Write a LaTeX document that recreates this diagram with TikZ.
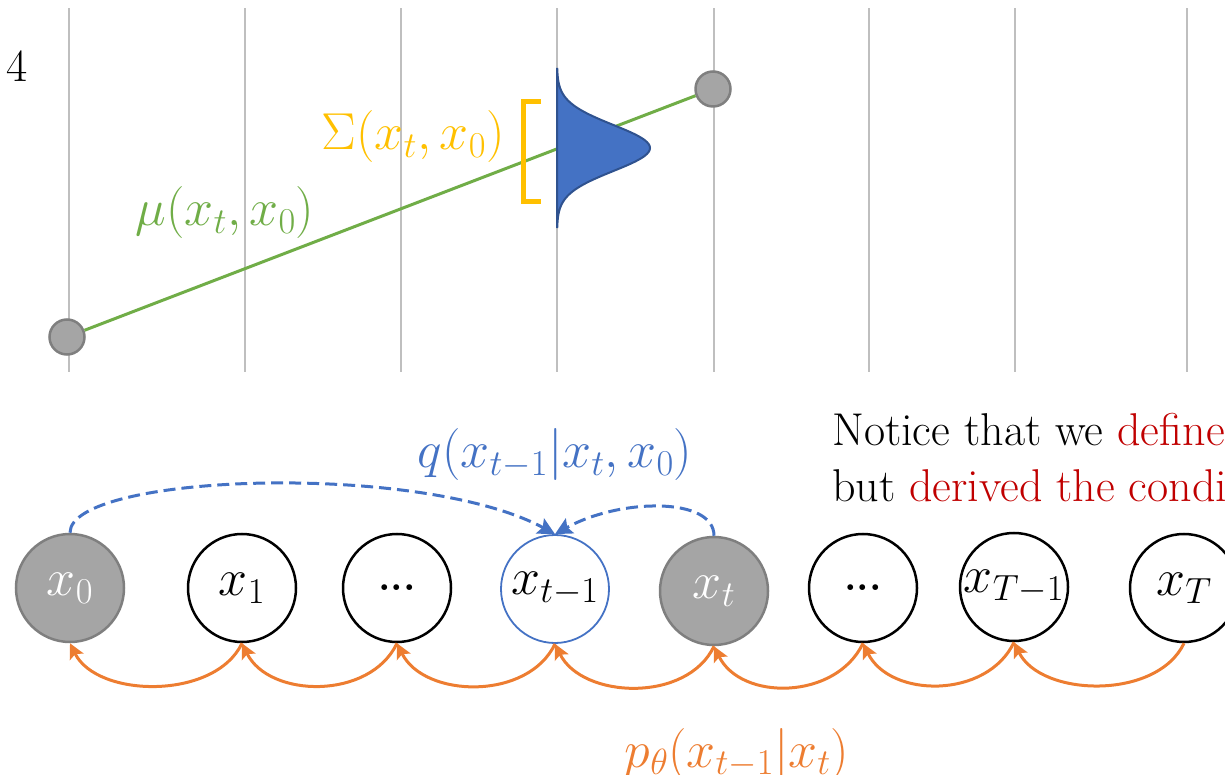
\RequirePackage{fix-cm}
\documentclass[tikz,border=0pt]{standalone}
\usepackage{amsmath}
\usetikzlibrary{arrows.meta}

\definecolor{gridgray}{HTML}{BFBFBF}
\definecolor{dotgray}{HTML}{A5A5A5}
\definecolor{dotedge}{HTML}{7F7F7F}
\definecolor{meangreen}{HTML}{70AD47}
\definecolor{sigyellow}{HTML}{FFC000}
\definecolor{qblue}{HTML}{4472C4}
\definecolor{bellblue}{HTML}{4472C4}
\definecolor{belledge}{HTML}{2F528F}
\definecolor{porange}{HTML}{ED7D31}
\definecolor{notered}{HTML}{C00000}

\newcommand{\mathsize}{\fontsize{52}{60}\selectfont}
\newcommand{\notesize}{\fontsize{46}{57}\selectfont}

\tikzset{
  gridline/.style={line width=2pt, draw=gridgray},
  meandot/.style={circle, fill=dotgray, draw=dotedge, line width=2.5pt, minimum size=35pt, inner sep=0pt},
  meanline/.style={line width=3pt, draw=meangreen},
  bell/.style={fill=bellblue, draw=belledge, line width=2pt},
  state/.style={circle, draw=black, line width=2.5pt, minimum size=108pt, inner sep=0pt, font=\mathsize},
  seen/.style={state, fill=dotgray, draw=dotedge, text=white},
  current/.style={state, draw=qblue, line width=1.8pt},
  qarrow/.style={line width=3pt, draw=qblue, dash pattern=on 12pt off 6pt, -{Stealth[length=17pt,width=17pt,inset=3pt,fill=qblue]}},
  parrow/.style={line width=3pt, draw=porange, -{Stealth[length=15pt,width=15pt,inset=3pt,fill=porange]}},
}

\begin{document}
\begin{tikzpicture}[x=1pt,y=1pt]
        \useasboundingbox (0,0) rectangle (1225,774);
        % grid lines
        \draw [gridline] (69,402) -- (69,766);
        \draw [gridline] (245,402) -- (245,766);
        \draw [gridline] (401,402) -- (401,766);
        \draw [gridline] (557,402) -- (557,766);
        \draw [gridline] (714,402) -- (714,766);
        \draw [gridline] (869,402) -- (869,766);
        \draw [gridline] (1015,402) -- (1015,766);
        \draw [gridline] (1187,402) -- (1187,766);
        \node (fourlabel) at (17,708) {\fontsize{46}{50}\selectfont 4};
        % mean line and end points
        \node [meandot] (mstart) at (67,437) {};
        \node [meandot] (mend) at (713,685) {};
        \draw [meanline] (mstart) -- (mend);
        \node [text=meangreen, font=\mathsize] (mulabel) at (225,561) {$\mu(x_t,x_0)$};
        % gaussian and its spread
        \filldraw [bell] plot [domain=-80:80, samples=81, smooth] ({557+93*exp(-(\x*\x)/1058)}, {626+\x}) -- cycle;
        \draw [line width=5pt, draw=sigyellow] (541,672) -- (523,672) -- (523,572) -- (541,572);
        \node [text=sigyellow, font=\mathsize, anchor=east] (sigmalabel) at (508,637) {$\Sigma(x_t,x_0)$};
        % chain of states
        \node [seen] (x0) at (70,186) {$x_0$};
        \node [state] (x1) at (242,186) {$x_1$};
        \node [state] (dots1) at (397,186) {\fontsize{40}{44}\selectfont\textbf{...}};
        \node [current] (xtm1) at (555,185) {$x_{t-1}$};
        \node [seen] (xt) at (714,183) {$x_t$};
        \node [state] (dots2) at (863,186) {\fontsize{40}{44}\selectfont\textbf{...}};
        \node [state] (xTm1) at (1014,187) {$x_{T-1}$};
        \node [state] (xT) at (1184,186) {$x_T$};
        % posterior arrows
        \draw [qarrow] (x0.north) .. controls +(0,59) and +(-135,73) .. (xtm1.north);
        \draw [qarrow] (xt.north) .. controls +(0,39) and +(65,36) .. (xtm1.north);
        \node [text=qblue, font=\mathsize] (qlabel) at (555,319) {$q(x_{t-1}|x_t,x_0)$};
        % reverse arrows
        \draw [parrow] (x1.south) .. controls +(-27,-57) and +(27,-55) .. (x0.south);
        \draw [parrow] (dots1.south) .. controls +(-27,-57) and +(27,-55) .. (x1.south);
        \draw [parrow] (xtm1.south) .. controls +(-27,-57) and +(27,-55) .. (dots1.south);
        \draw [parrow] (xt.south) .. controls +(-27,-57) and +(27,-55) .. (xtm1.south);
        \draw [parrow] (dots2.south) .. controls +(-27,-57) and +(27,-55) .. (xt.south);
        \draw [parrow] (xTm1.south) .. controls +(-27,-57) and +(27,-55) .. (dots2.south);
        \draw [parrow] (xT.south) .. controls +(-27,-57) and +(27,-55) .. (xTm1.south);
        \node [text=porange, font=\mathsize] (plabel) at (737,20) {$p_\theta(x_{t-1}|x_t)$};
        % note
        \node [anchor=base west, inner sep=0pt, font=\notesize] (note1) at (832,328) {Notice that we \textcolor{notered}{define}};
        \node [anchor=base west, inner sep=0pt, font=\notesize] (note2) at (832,272) {but \textcolor{notered}{derived the condi}};
\end{tikzpicture}
\end{document}
